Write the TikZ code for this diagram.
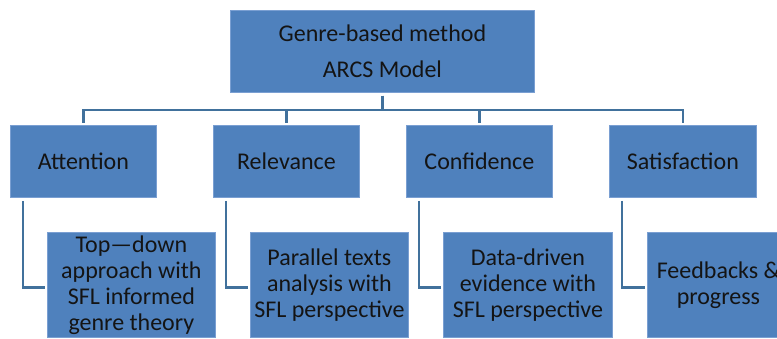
\documentclass[tikz,border=0pt]{standalone}
\usepackage{fontspec}
\setmainfont{Carlito}
\usetikzlibrary{calc}
\definecolor{boxblue}{HTML}{4F81BD}
\definecolor{boxedge}{HTML}{7A9FD2}
\definecolor{linkblue}{HTML}{41719C}
\definecolor{inktext}{HTML}{141414}
\begin{document}
\begin{tikzpicture}[x=1pt,y=-1pt,
  box/.style={draw=boxedge,line width=0.8pt,fill=boxblue,text=inktext,
    anchor=north west,inner sep=0pt,align=center,
    font=\fontsize{24}{26}\selectfont},
  conn/.style={draw=linkblue,line width=2.4pt,shorten <=3pt,shorten >=2pt}]
\useasboundingbox (0,0) rectangle (777,339);
\clip (0,0) rectangle (777,339);

% root
\node[box,minimum width=304pt,minimum height=82pt] (top) at (230,10)
  {Genre-based method\\[10pt]ARCS Model};

% ARCS components
\node[box,minimum width=146pt,minimum height=72pt] (att) at (10,125) {Attention};
\node[box,minimum width=146pt,minimum height=72pt] (rel) at (213,125) {Relevance};
\node[box,minimum width=146pt,minimum height=72pt] (con) at (406,125) {Confidence};
\node[box,minimum width=147pt,minimum height=72pt] (sat) at (609,125) {Satisfaction};

% genre-based counterparts
\node[box,minimum width=168pt,minimum height=105pt] (attc) at (47,232)
  {Top—down\\approach with\\SFL informed\\genre theory};
\node[box,minimum width=158pt,minimum height=105pt] (relc) at (250,232)
  {Parallel texts\\analysis with\\SFL perspective};
\node[box,minimum width=169pt,minimum height=105pt] (conc) at (443,232)
  {Data-driven\\evidence with\\SFL perspective};
\node[box,minimum width=142pt,minimum height=105pt] (satc) at (647,232)
  {Feedbacks \&\\progress};

% tree links
\foreach \c in {att,rel,con,sat}
  \draw[conn] (top.south) -- ++(0,17) -| (\c.north);

% elbow links
\foreach \p/\c in {att/attc,rel/relc,con/conc,sat/satc}
  \draw[conn] ([xshift=13pt]\p.south west) |- ([yshift=-2.5pt]\c.west);
\end{tikzpicture}
\end{document}
